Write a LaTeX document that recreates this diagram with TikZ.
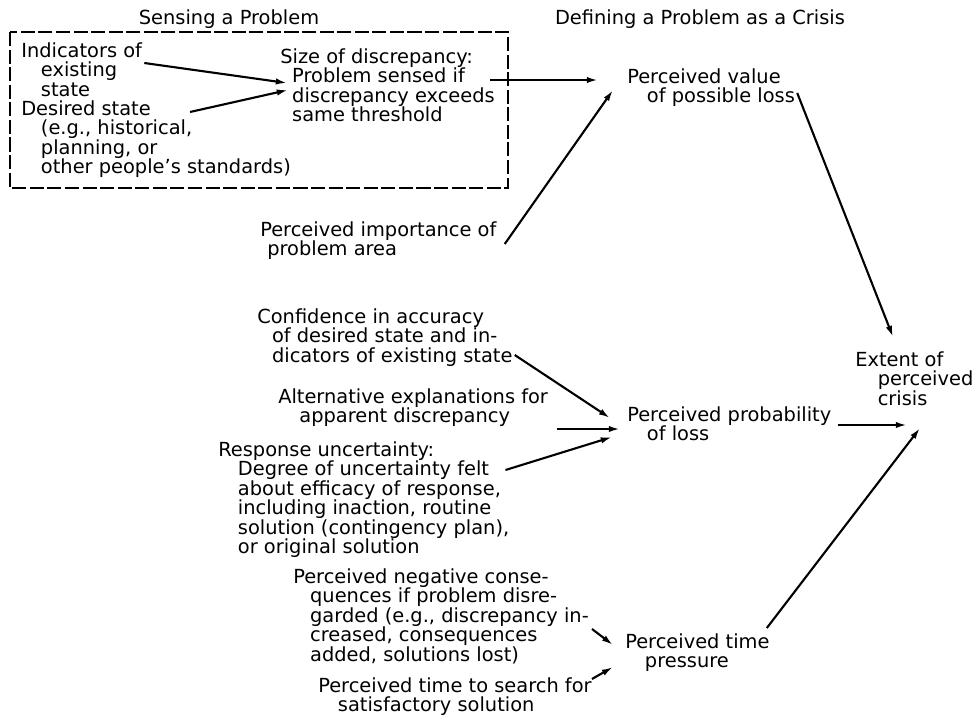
\documentclass[tikz,border=0pt]{standalone}
\usepackage{fontspec}
\setmainfont{DejaVu Sans}
\usepackage{tikz}
\usetikzlibrary{arrows.meta,calc}
\newcommand{\indnt}[1][14pt]{\hspace*{#1}}

\begin{document}
\begin{tikzpicture}[
    x=0.025cm, y=-0.025cm,
    txt/.style={anchor=north west, inner sep=0pt, align=left,
      font=\fontsize{13.8}{13.9}\selectfont},
    ttl/.style={inner sep=0pt, font=\fontsize{13.8}{13.9}\selectfont},
    arr/.style={line width=1.5pt, -{Latex[length=8pt,width=4.5pt]}},
  ]
  \useasboundingbox (0,0) rectangle (978,717);

  % Titles
  \node[ttl] (sensing) at (229,19) {Sensing a Problem};
  \node[ttl] (defining) at (700,19) {Defining a Problem as a Crisis};

  % Sensing a problem
  \draw[line width=1.3pt, dash pattern=on 10pt off 2.5pt] (10,32) rectangle (508,188);
  \node[txt] (indic) at (21,42) {Indicators of\\\indnt existing\\\indnt state};
  \node[txt] (desired) at (21,100)
    {Desired state\\\indnt (e.g., historical,\\\indnt planning, or\\\indnt other people's standards)};
  \node[txt] (size) at (280,48)
    {Size of discrepancy:\\\indnt[8.5pt]Problem sensed if\\\indnt[8.5pt]discrepancy exceeds\\\indnt[8.5pt]same threshold};

  \draw[arr] ($(indic.north east)+(2,21)$) -- ($(size.north west)+(7,35)$);
  \draw[arr] ($(desired.north west)+(169,12)$) -- ($(size.north west)+(8,42)$);

  % Defining a problem as a crisis
  \node[txt] (import) at (260,221) {Perceived importance of\\\indnt[5pt]problem area};
  \node[txt] (value) at (627,68) {Perceived value\\\indnt of possible loss};
  \node[txt] (extent) at (855,351) {Extent of\\\indnt[16pt]perceived\\\indnt[16pt]crisis};

  \node[txt] (conf) at (257,308)
    {Confidence in accuracy\\\indnt[10.5pt]of desired state and in-\\\indnt[10.5pt]dicators of existing state};
  \node[txt] (alt) at (278,388) {Alternative explanations for\\\indnt[15pt]apparent discrepancy};
  \node[txt] (resp) at (218,441)
    {Response uncertainty:\\\indnt Degree of uncertainty felt\\\indnt about efficacy of response,\\\indnt including inaction, routine\\\indnt solution (contingency plan),\\\indnt or original solution};
  \node[txt] (prob) at (627,406) {Perceived probability\\\indnt of loss};

  \node[txt] (neg) at (293,568)
    {Perceived negative conse-\\\indnt[12pt]quences if problem disre-\\\indnt[12pt]garded (e.g., discrepancy in-\\\indnt[12pt]creased, consequences\\\indnt[12pt]added, solutions lost)};
  \node[txt] (search) at (318,677) {Perceived time to search for\\\indnt satisfactory solution};
  \node[txt] (time) at (625,633) {Perceived time\\\indnt pressure};

  \draw[arr] ($(size.north west)+(210,32)$) -- ($(value.north west)+(-29,12)$);
  \draw[arr] ($(import.north east)+(8,23)$) -- ($(value.north west)+(-14,22)$);
  \draw[arr] ($(value.north east)+(2,25)$) -- ($(extent.north west)+(38,-14)$);

  \draw[arr] ($(conf.north east)+(2,47)$) -- ($(prob.north west)+(-17,12)$);
  \draw[arr] ($(alt.north east)+(9,41)$) -- ($(prob.north west)+(-7,23)$);
  \draw[arr] ($(resp.north east)+(-4,29)$) -- ($(prob.north west)+(-15,31)$);

  \draw[arr] ($(neg.north east)+(3,61)$) -- ($(time.north west)+(-12,12)$);
  \draw[arr] ($(search.north east)+(0,2)$) -- ($(time.north west)+(-12,34)$);

  \draw[arr] ($(prob.north east)+(6,19)$) -- ($(extent.north west)+(52,74)$);
  \draw[arr] ($(time.north east)+(-3,-5)$) -- ($(extent.north west)+(65,77)$);

\end{tikzpicture}
\end{document}
